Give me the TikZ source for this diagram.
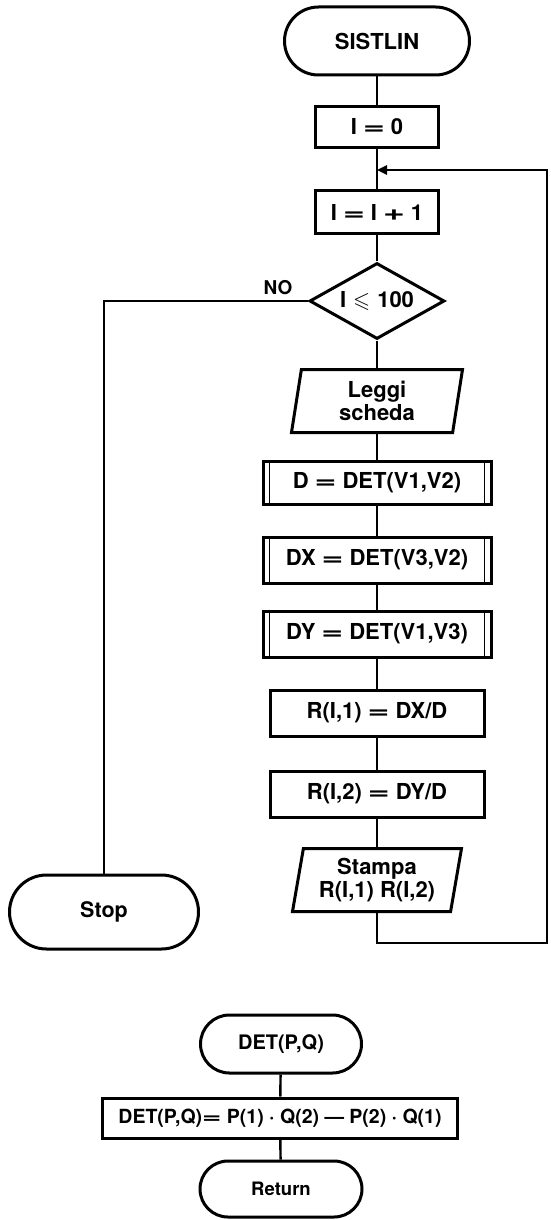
\documentclass[tikz,border=0pt]{standalone}
\usepackage{fontspec}
\usepackage{amssymb}
\usepackage{graphicx}
\setmainfont{TeX Gyre Heros}
\usetikzlibrary{shapes.geometric,shapes.misc,arrows.meta}
\newcommand{\weq}{\scalebox{1.7}[1]{=}}
\newcommand{\eqs}{\hspace{6pt}\weq\hspace{6pt}}
\newcommand{\pls}{\hspace{6pt}\scalebox{1.7}[1]{+}\hspace{6pt}}
\begin{document}
\begin{tikzpicture}[x=1pt,y=-1pt,
  base/.style={draw,line width=3pt,font=\fontsize{22}{23}\selectfont\bfseries,align=center,inner sep=0pt},
  term/.style={base,rounded rectangle},
  proc/.style={base,rectangle},
  decision/.style={base,diamond,aspect=1.8},
  io/.style={base,trapezium,trapezium left angle=76,trapezium right angle=104,trapezium stretches body},
  conn/.style={line width=2.4pt},
  bar/.style={line width=1.8pt}
]
\useasboundingbox (0,0) rectangle (550,1220);

\node[term,minimum width=185pt,minimum height=68pt] (sist) at (377,41) {SISTLIN};
\node[proc,minimum width=123pt,minimum height=41pt] (i0) at (377,127) {I\eqs 0};
\coordinate (join) at (377,170);
\node[proc,minimum width=123pt,minimum height=43pt] (ii) at (377,212) {I\eqs I\pls 1};
\node[decision,minimum width=135pt,minimum height=76pt] (dia) at (377,301) {I\hspace{7pt}$\leqslant$\hspace{7pt}100};
\node[font=\fontsize{19}{21}\selectfont\bfseries] (no) at (278,288) {NO};
\node[io,minimum width=171pt,minimum height=63pt] (leggi) at (377,401) {Leggi\\scheda};
\node[proc,minimum width=228pt,minimum height=43pt] (d) at (377,483) {D\eqs DET(V1,V2)};
\node[proc,minimum width=228pt,minimum height=46pt] (dx) at (377,560) {DX\eqs DET(V3,V2)};
\node[proc,minimum width=228pt,minimum height=46pt] (dy) at (377,634) {DY\eqs DET(V1,V3)};
\node[proc,minimum width=214pt,minimum height=46pt] (r1) at (377,713) {R(I,1)\eqs DX/D};
\node[proc,minimum width=214pt,minimum height=46pt] (r2) at (377,794) {R(I,2)\eqs DY/D};
\node[io,minimum width=169pt,minimum height=63pt] (stampa) at (377,880) {Stampa\\R(I,1) R(I,2)};
\node[term,minimum width=189pt,minimum height=74pt,font=\fontsize{21.5}{23}\selectfont\bfseries] (stop) at (104,912) {Stop};
\coordinate (lb) at (547,943);

\foreach \n in {d,dx,dy}{
  \draw[bar] ([xshift=8pt]\n.north west) -- ([xshift=8pt]\n.south west);
  \draw[bar] ([xshift=-8pt]\n.north east) -- ([xshift=-8pt]\n.south east);
}

\draw[conn] (sist) -- (i0);
\draw[conn] (i0) -- (ii);
\draw[conn] (ii) -- (dia);
\draw[conn] (dia) -- (leggi);
\draw[conn] (leggi) -- (d);
\draw[conn] (d) -- (dx);
\draw[conn] (dx) -- (dy);
\draw[conn] (dy) -- (r1);
\draw[conn] (r1) -- (r2);
\draw[conn] (r2) -- (stampa);
\draw[conn] (dia.west) -| (stop.north);
\draw[conn,-{Triangle[length=10pt,width=9pt]}] (stampa.south) |- (lb) |- (join);

\node[term,minimum width=161pt,minimum height=58pt,font=\fontsize{20}{22}\selectfont\bfseries] (detpq) at (281,1044) {DET(P,Q)};
\node[proc,minimum width=355pt,minimum height=40pt,font=\fontsize{19.5}{22}\selectfont\bfseries] (detbox) at (280,1118) {DET(P,Q)\weq\ P(1) · Q(2) — P(2) · Q(1)};
\node[term,minimum width=162pt,minimum height=56pt,font=\fontsize{18.5}{20}\selectfont\bfseries] (ret) at (281,1189) {Return};
\draw[conn] (detpq) -- (detbox);
\draw[conn] (detbox) -- (ret);
\end{tikzpicture}
\end{document}
